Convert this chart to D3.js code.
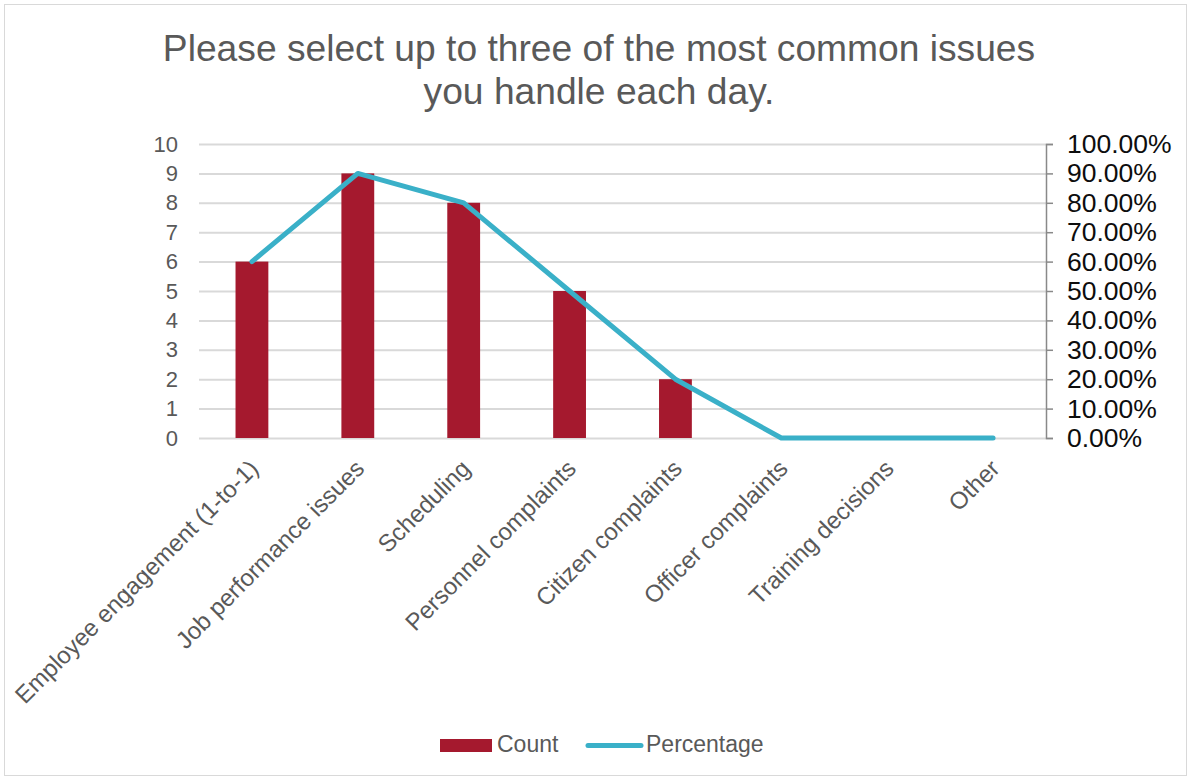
<!DOCTYPE html>
<html>
<head>
<meta charset="utf-8">
<script src="https://cdn.jsdelivr.net/npm/d3@7"></script>
<style>
  html, body { margin: 0; padding: 0; background: #fff; }
  svg { display: block; font-family: "Liberation Sans", Arial, sans-serif; }
</style>
</head>
<body>
<svg id="chart" width="1191" height="780"></svg>
<script>
// Survey: most common daily issues
const categories = [
  "Employee engagement (1-to-1)",
  "Job performance issues",
  "Scheduling",
  "Personnel complaints",
  "Citizen complaints",
  "Officer complaints",
  "Training decisions",
  "Other"
];
const counts = [6, 9, 8, 5, 2, 0, 0, 0];
const percentages = [0.60, 0.90, 0.80, 0.50, 0.20, 0, 0, 0];
const countTicks = [0, 1, 2, 3, 4, 5, 6, 7, 8, 9, 10];
const percentTicks = [0, 0.1, 0.2, 0.3, 0.4, 0.5, 0.6, 0.7, 0.8, 0.9, 1.0];
const titleLines = ["Please select up to three of the most common issues", "you handle each day."];

const svg = d3.select("#chart");
const W = 1191, H = 780;
const plot = { left: 199, right: 1046, top: 144, bottom: 438 };

const barColor = "#A5192E";
const lineColor = "#3AB0C8";
const textGray = "#595959";
const gridColor = "#D9D9D9";

// outer frame
svg.append("rect")
  .attr("x", 4.5).attr("y", 4.5)
  .attr("width", W - 9).attr("height", H - 9)
  .attr("fill", "#fff").attr("stroke", gridColor).attr("stroke-width", 1);

// title
svg.append("text")
  .attr("text-anchor", "middle")
  .attr("font-size", 37.2)
  .attr("fill", textGray)
  .selectAll("tspan").data(titleLines).join("tspan")
  .attr("x", 599)
  .attr("y", (d, i) => 61 + i * 43)
  .text(d => d);

const x = d3.scaleBand().domain(categories).range([plot.left, plot.right]).paddingInner(0).paddingOuter(0);
const yL = d3.scaleLinear().domain([0, 10]).range([plot.bottom, plot.top]);
const yR = d3.scaleLinear().domain([0, 1]).range([plot.bottom, plot.top]);

// gridlines
svg.append("g").selectAll("line").data(countTicks).join("line")
  .attr("x1", plot.left).attr("x2", plot.right)
  .attr("y1", d => yL(d) + 0.5).attr("y2", d => yL(d) + 0.5)
  .attr("stroke", gridColor).attr("stroke-width", 2);

// left axis labels
const leftAxis = d3.axisLeft(yL).tickValues(countTicks).tickSize(0).tickPadding(21).tickFormat(d3.format("d"));
const gL = svg.append("g").attr("transform", `translate(${plot.left},0)`).call(leftAxis);
gL.select(".domain").remove();
gL.selectAll("text").attr("font-size", 22).attr("fill", textGray).attr("font-family", "Liberation Sans, Arial, sans-serif");

// right axis
const rightAxis = d3.axisRight(yR).tickValues(percentTicks).tickSize(7).tickSizeOuter(7).tickPadding(14).tickFormat(d3.format(".2%"));
const gR = svg.append("g").attr("transform", `translate(${plot.right},0)`).call(rightAxis);
gR.select(".domain").attr("stroke", "#898989").attr("stroke-width", 1.5);
gR.selectAll(".tick line").attr("stroke", "#898989").attr("stroke-width", 1.5);
gR.selectAll("text").attr("font-size", 26.5).attr("fill", "#0d0d0d").attr("font-family", "Liberation Sans, Arial, sans-serif");

// bars
const barW = x.bandwidth() * 0.31;
svg.append("g").selectAll("rect").data(categories).join("rect")
  .attr("x", d => x(d) + x.bandwidth() / 2 - barW / 2)
  .attr("y", (d, i) => yL(counts[i]))
  .attr("width", barW)
  .attr("height", (d, i) => yL(0) - yL(counts[i]))
  .attr("fill", barColor);

// percentage line
const line = d3.line()
  .x((d, i) => x(categories[i]) + x.bandwidth() / 2)
  .y(d => yR(d));
svg.append("path").datum(percentages)
  .attr("d", line)
  .attr("fill", "none")
  .attr("stroke", lineColor)
  .attr("stroke-width", 5)
  .attr("stroke-linejoin", "round")
  .attr("stroke-linecap", "round");

// category labels, rotated
svg.append("g").selectAll("text").data(categories).join("text")
  .attr("transform", d => `translate(${x(d) + x.bandwidth() / 2 + 8},${plot.bottom + 32}) rotate(-45)`)
  .attr("text-anchor", "end")
  .attr("font-size", 24)
  .attr("fill", textGray)
  .text(d => d);

// legend
const lg = svg.append("g");
lg.append("rect").attr("x", 440).attr("y", 739).attr("width", 52).attr("height", 13).attr("fill", barColor);
lg.append("text").attr("x", 497).attr("y", 752).attr("font-size", 23).attr("fill", textGray).text("Count");
lg.append("line").attr("x1", 588).attr("x2", 641).attr("y1", 745.5).attr("y2", 745.5)
  .attr("stroke", lineColor).attr("stroke-width", 5).attr("stroke-linecap", "round");
lg.append("text").attr("x", 646).attr("y", 752).attr("font-size", 23).attr("fill", textGray).text("Percentage");
</script>
</body>
</html>
